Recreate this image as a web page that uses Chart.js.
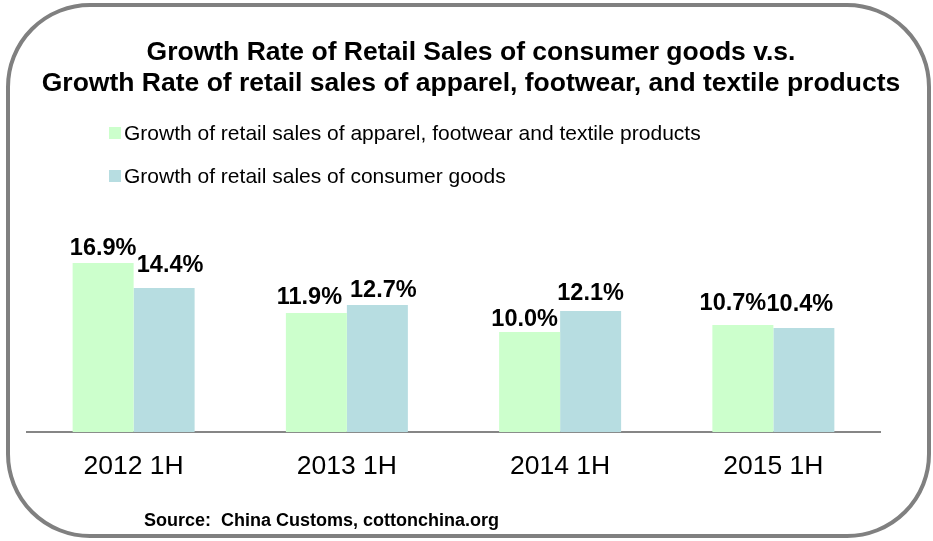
<!DOCTYPE html>
<html>
<head>
<meta charset="utf-8">
<title>Growth Rate of Retail Sales</title>
<script src="https://cdn.jsdelivr.net/npm/chart.js@4/dist/chart.umd.min.js"></script>
<style>
  html, body { margin: 0; padding: 0; background: #ffffff; }
  canvas { display: block; }
</style>
</head>
<body>
<canvas id="chart" width="933" height="541"></canvas>
<script>
// Half-year periods on the category axis
const categories = ['2012 1H', '2013 1H', '2014 1H', '2015 1H'];

// Year-on-year growth, percent
const apparelGrowth = [16.9, 11.9, 10.0, 10.7];
const consumerGrowth = [14.4, 12.7, 12.1, 10.4];

const seriesNames = [
  'Growth of retail sales of apparel, footwear and textile products',
  'Growth of retail sales of consumer goods'
];

const titleLines = [
  'Growth Rate of Retail Sales of consumer goods v.s.',
  'Growth Rate of retail sales of apparel, footwear, and textile products'
];

const sourceNote = 'Source:  China Customs, cottonchina.org';

const FONT = "'Liberation Sans', Arial, Helvetica, sans-serif";
const GREEN = '#CCFFCC';
const BLUE = '#B7DDE1';

// Per-label placement tweaks [dx, gap above bar top] so neighbouring labels don't collide
const labelPlacement = [
  [[0, 8], [-7, 9], [-5, 6], [-10, 15]],
  [[6, 16], [6, 8], [0, 11], [-4, 17]]
];

// Rounded frame, heading, legend and source line
const framePlugin = {
  id: 'frame',
  beforeDraw(chart) {
    const ctx = chart.ctx;
    ctx.save();
    ctx.fillStyle = '#ffffff';
    ctx.fillRect(0, 0, chart.width, chart.height);
    ctx.restore();
  },
  afterDraw(chart) {
    const ctx = chart.ctx;
    ctx.save();

    // frame
    ctx.strokeStyle = '#808080';
    ctx.lineWidth = 4;
    ctx.beginPath();
    ctx.roundRect(8, 5, 921, 531, 82);
    ctx.stroke();

    // heading
    ctx.fillStyle = '#000000';
    ctx.textAlign = 'center';
    ctx.textBaseline = 'alphabetic';
    ctx.font = 'bold 26.5px ' + FONT;
    ctx.fillText(titleLines[0], 471, 60);
    ctx.fillText(titleLines[1], 471, 91);

    // legend
    const rows = [140, 183];
    ctx.textAlign = 'left';
    ctx.font = '21px ' + FONT;
    chart.data.datasets.forEach((ds, i) => {
      ctx.fillStyle = ds.backgroundColor;
      ctx.fillRect(109, rows[i] - 13, 12, 12);
      ctx.fillStyle = '#000000';
      ctx.fillText(ds.label, 124, rows[i]);
    });

    // source
    ctx.font = 'bold 18px ' + FONT;
    ctx.fillText(sourceNote, 144, 526);
    ctx.restore();
  }
};

// Value labels above each bar
const valueLabelPlugin = {
  id: 'valueLabels',
  afterDatasetsDraw(chart) {
    const ctx = chart.ctx;
    ctx.save();
    ctx.fillStyle = '#000000';
    ctx.font = 'bold 23.5px ' + FONT;
    ctx.textAlign = 'center';
    ctx.textBaseline = 'alphabetic';
    chart.data.datasets.forEach((ds, di) => {
      const meta = chart.getDatasetMeta(di);
      meta.data.forEach((bar, i) => {
        const [dx, gap] = labelPlacement[di][i];
        ctx.fillText(ds.data[i].toFixed(1) + '%', bar.x + dx, bar.y - gap);
      });
    });
    ctx.restore();
  }
};

new Chart(document.getElementById('chart'), {
  type: 'bar',
  data: {
    labels: categories,
    datasets: [
      { label: seriesNames[0], data: apparelGrowth, backgroundColor: GREEN, borderWidth: 0 },
      { label: seriesNames[1], data: consumerGrowth, backgroundColor: BLUE, borderWidth: 0 }
    ]
  },
  options: {
    responsive: false,
    animation: false,
    layout: { padding: { left: 27, right: 53, top: 232, bottom: 39 } },
    datasets: {
      bar: { categoryPercentage: 0.572, barPercentage: 1.0 }
    },
    plugins: {
      legend: { display: false },
      title: { display: false },
      tooltip: { enabled: false }
    },
    scales: {
      x: {
        grid: { display: false, drawTicks: false, tickLength: 0 },
        border: { display: true, color: '#868686', width: 2 },
        ticks: {
          color: '#000000',
          padding: 19,
          font: { family: FONT, size: 26.5 }
        }
      },
      y: {
        display: false,
        min: 0,
        max: 20
      }
    }
  },
  plugins: [framePlugin, valueLabelPlugin]
});
</script>
</body>
</html>
